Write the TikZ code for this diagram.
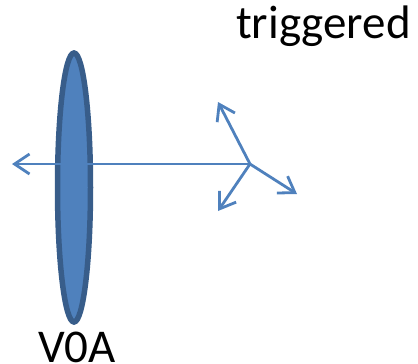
\documentclass[tikz,border=0pt]{standalone}
\usepackage{fontspec}
\setmainfont{Carlito}
\usetikzlibrary{shapes}
\usetikzlibrary{arrows.meta}
\definecolor{officeblue}{HTML}{4F81BD}
\definecolor{officedark}{HTML}{385D8A}
\tikzstyle{detector} = [ellipse, fill=officeblue, draw=officedark, line width=5.5pt,
minimum width=33pt, minimum height=269pt, inner sep=0pt]
\tikzstyle{track} = [draw=officeblue, line width=2.8pt]
\tikzstyle{caption} = [inner sep=0pt, font=\fontsize{47}{47}\selectfont]
\tikzset{>={Straight Barb[length=15pt,width=20pt,line width=2.8pt]}}

\begin{document}
\begin{tikzpicture}[x=1pt, y=-1pt]
  \useasboundingbox (0,0) rectangle (418,364);
  \node[detector] (v0a) at (74,187.5) {};

  \coordinate (vtx) at (250,164);
  \coordinate (back) at (12,164);
  \coordinate (up) at (218,102);
  \coordinate (down) at (218,211);
  \coordinate (fwd) at (297,194);

  \path[track,->] (vtx) -- (back);
  \path[track,->] (vtx) -- (up);
  \path[track,->] (vtx) -- (down);
  \path[track,->] (vtx) -- (fwd);

  \node[caption, anchor=base west] (trig) at (236,38) {triggered};
  \node[caption, anchor=base west] (lbl) at (38,362) {V0A};
\end{tikzpicture}
\end{document}
